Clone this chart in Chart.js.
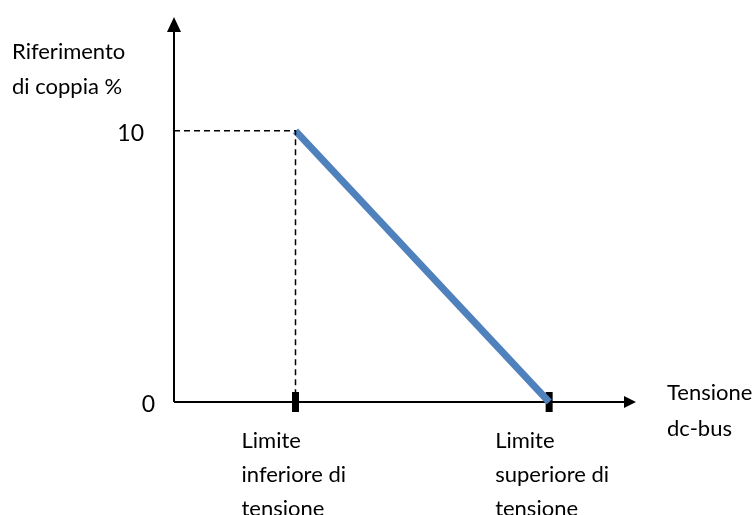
<!DOCTYPE html>
<html>
<head>
<meta charset="utf-8">
<script src="https://cdn.jsdelivr.net/npm/chart.js@4.4.0/dist/chart.umd.min.js"></script>
<style>
  body { margin: 0; background: #fff; }
  #wrap { width: 753px; height: 515px; }
</style>
</head>
<body>
<div id="wrap"><canvas id="chart" width="753" height="515"></canvas></div>
<script>
// values on the drawing's own (unitless) scales
const xRange = [0, 100];
const yRange = [0, 14.2];
const limitValues = [26.3, 81.2]; // lower, upper voltage limit
const torqueValues = [10, 0]; // torque reference at each limit
const yTickValues = [0, 10];
const tickLabels = [
  ['Limite', 'inferiore di', 'tensione'],
  ['Limite', 'superiore di', 'tensione'],
];
const yAxisTitle = ['Riferimento', 'di coppia %'];
const xAxisTitle = ['Tensione', 'dc-bus'];

const FONT = 'Lato, "Open Sans", sans-serif';
const blue = '#4f81bd';

const curve = limitValues.map((x, i) => ({ x: x, y: torqueValues[i] }));
const guide = [
  { x: xRange[0], y: torqueValues[0] },
  { x: limitValues[0], y: torqueValues[0] },
  { x: limitValues[0], y: 0 },
];
const tickMarks = limitValues.map((x) => ({ x: x, y: 0 }));

// axes with arrow heads, tick values and labels
const sketchAxes = {
  id: 'sketchAxes',
  beforeDatasetsDraw(chart) {
    const { ctx, scales } = chart;
    const x0 = scales.x.getPixelForValue(xRange[0]);
    const x1 = scales.x.getPixelForValue(xRange[1]);
    const y0 = scales.y.getPixelForValue(yRange[0]);
    const y1 = scales.y.getPixelForValue(yRange[1]);
    ctx.save();
    ctx.strokeStyle = '#000';
    ctx.fillStyle = '#000';
    ctx.lineWidth = 2;
    ctx.beginPath();
    ctx.moveTo(x0, y0);
    ctx.lineTo(x1 - 8, y0);
    ctx.moveTo(x0, y0);
    ctx.lineTo(x0, y1 + 10);
    ctx.stroke();
    // arrow heads
    ctx.beginPath();
    ctx.moveTo(x1, y0);
    ctx.lineTo(x1 - 12, y0 - 6);
    ctx.lineTo(x1 - 12, y0 + 6);
    ctx.closePath();
    ctx.fill();
    ctx.beginPath();
    ctx.moveTo(x0, y1);
    ctx.lineTo(x0 - 7, y1 + 15);
    ctx.lineTo(x0 + 7, y1 + 15);
    ctx.closePath();
    ctx.fill();
    ctx.restore();
  },
  afterDraw(chart) {
    const { ctx, scales } = chart;
    ctx.save();
    ctx.fillStyle = '#000';
    ctx.textBaseline = 'middle';
    // y tick values
    ctx.font = '23px ' + FONT;
    ctx.textAlign = 'right';
    yTickValues.forEach((v) => {
      const xOff = v === 0 ? 19 : 30;
      ctx.fillText(String(v), scales.x.getPixelForValue(xRange[0]) - xOff, scales.y.getPixelForValue(v) + 3);
    });
    ctx.font = '22px ' + FONT;
    ctx.textAlign = 'left';
    // x tick labels, left aligned under each limit
    limitValues.forEach((v, i) => {
      const px = scales.x.getPixelForValue(v);
      tickLabels[i].forEach((line, j) => {
        ctx.fillText(line, px - 54, scales.y.getPixelForValue(0) + 39 + j * 34);
      });
    });
    // axis titles
    yAxisTitle.forEach((line, j) => ctx.fillText(line, 12, 52 + j * 35));
    const xr = scales.x.getPixelForValue(xRange[1]);
    xAxisTitle.forEach((line, j) => ctx.fillText(line, xr + 31, scales.y.getPixelForValue(0) - 9 + j * 36));
    ctx.restore();
  },
};

new Chart(document.getElementById('chart'), {
  type: 'scatter',
  data: {
    datasets: [
      {
        data: guide,
        showLine: true,
        borderColor: '#000',
        borderWidth: 1.5,
        borderDash: [6, 4],
        pointRadius: 0,
        clip: false,
      },
      {
        data: curve,
        showLine: true,
        borderColor: blue,
        borderWidth: 7,
        pointRadius: 0,
        clip: false,
      },
      {
        data: tickMarks,
        pointStyle: 'line',
        rotation: 90,
        pointRadius: 10,
        pointBorderWidth: 7,
        pointBorderColor: '#000',
        clip: false,
      },
    ],
  },
  options: {
    responsive: false,
    animation: false,
    events: [],
    layout: { padding: { left: 174, top: 12, right: 117, bottom: 113 } },
    plugins: { legend: { display: false }, tooltip: { enabled: false } },
    scales: {
      x: { type: 'linear', min: xRange[0], max: xRange[1], display: false },
      y: { type: 'linear', min: yRange[0], max: yRange[1], display: false },
    },
  },
  plugins: [sketchAxes],
});
</script>
</body>
</html>
